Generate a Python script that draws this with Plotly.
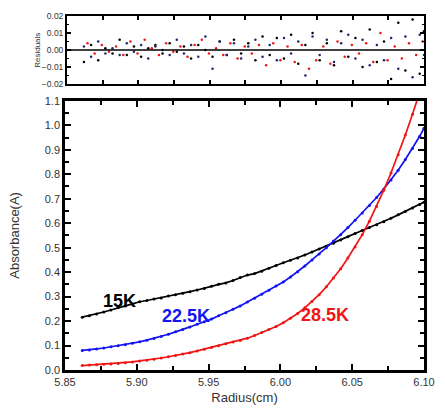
import plotly.graph_objects as go

radius = [5.862, 5.867, 5.872, 5.877, 5.882, 5.887, 5.892, 5.897, 5.902, 5.907,
          5.912, 5.917, 5.922, 5.927, 5.932, 5.937, 5.942, 5.947, 5.952, 5.957,
          5.962, 5.967, 5.972, 5.977, 5.982, 5.987, 5.992, 5.997, 6.002, 6.007,
          6.012, 6.017, 6.022, 6.027, 6.032, 6.037, 6.042, 6.047, 6.052, 6.057,
          6.062, 6.067, 6.072, 6.077, 6.082, 6.087, 6.092, 6.097, 6.100]

abs_15k = [0.216, 0.222, 0.229, 0.237, 0.245, 0.255, 0.262, 0.270, 0.279, 0.284,
           0.290, 0.294, 0.302, 0.308, 0.314, 0.320, 0.327, 0.333, 0.342, 0.350,
           0.356, 0.366, 0.378, 0.388, 0.394, 0.404, 0.416, 0.427, 0.438, 0.448,
           0.458, 0.470, 0.482, 0.494, 0.506, 0.518, 0.531, 0.545, 0.558, 0.570,
           0.582, 0.594, 0.606, 0.620, 0.634, 0.648, 0.662, 0.676, 0.686]

abs_225k = [0.080, 0.082, 0.086, 0.090, 0.095, 0.099, 0.103, 0.109, 0.115, 0.122,
            0.129, 0.137, 0.146, 0.156, 0.165, 0.176, 0.187, 0.197, 0.208, 0.222,
            0.234, 0.248, 0.262, 0.278, 0.293, 0.310, 0.326, 0.343, 0.360, 0.380,
            0.402, 0.425, 0.450, 0.474, 0.500, 0.527, 0.553, 0.582, 0.612, 0.642,
            0.672, 0.705, 0.740, 0.776, 0.816, 0.860, 0.905, 0.955, 0.988]

abs_285k = [0.018, 0.020, 0.021, 0.023, 0.025, 0.027, 0.030, 0.033, 0.037, 0.040,
            0.044, 0.049, 0.054, 0.059, 0.065, 0.071, 0.078, 0.085, 0.092, 0.099,
            0.107, 0.114, 0.121, 0.130, 0.141, 0.153, 0.165, 0.178, 0.193, 0.211,
            0.231, 0.254, 0.280, 0.308, 0.340, 0.376, 0.414, 0.458, 0.503, 0.553,
            0.608, 0.668, 0.735, 0.805, 0.880, 0.960, 1.045, 1.135, 1.190]

radius_b = [5.8645, 5.8695, 5.8745, 5.8795, 5.8845, 5.8895, 5.8945, 5.8995, 5.9045, 5.9095,
            5.9145, 5.9195, 5.9245, 5.9295, 5.9345, 5.9395, 5.9445, 5.9495, 5.9545, 5.9595,
            5.9645, 5.9695, 5.9745, 5.9795, 5.9845, 5.9895, 5.9945, 5.9995, 6.0045, 6.0095,
            6.0145, 6.0195, 6.0245, 6.0295, 6.0345, 6.0395, 6.0445, 6.0495, 6.0545, 6.0595,
            6.0645, 6.0695, 6.0745, 6.0795, 6.0845, 6.0895, 6.0945, 6.0990]

resid_black = [-0.007, 0.003, -0.006, 0.001, -0.002, 0.006, -0.003, 0.002, -0.004, 0.001,
               0.003, -0.002, 0.004, -0.001, 0.002, -0.005, 0.003, 0.000, -0.004, 0.005,
               -0.003, 0.006, -0.002, 0.004, -0.006, 0.008, -0.003, 0.007, -0.005, 0.009,
               -0.008, 0.003, 0.010, -0.006, 0.004, -0.009, 0.011, -0.004, 0.007, -0.010,
               0.012, -0.007, 0.005, -0.017, 0.016, -0.012, 0.018, -0.014, 0.011]

resid_blue = [0.002, -0.004, 0.005, -0.002, 0.001, -0.003, 0.004, -0.001, 0.003, -0.005,
              0.002, 0.000, -0.003, 0.006, -0.002, 0.003, -0.004, 0.008, -0.011, 0.005,
              -0.003, 0.004, -0.005, 0.002, 0.006, -0.004, 0.003, -0.006, 0.007, -0.002,
              0.005, -0.015, 0.008, -0.003, 0.006, -0.007, 0.004, 0.009, -0.005, 0.006,
              -0.009, 0.003, -0.006, 0.007, -0.011, 0.008, -0.016, 0.009, -0.003]

resid_red = [0.004, -0.002, 0.003, -0.001, 0.002, -0.003, 0.005, -0.002, 0.006, 0.001,
             -0.003, 0.004, -0.001, 0.002, -0.004, 0.003, 0.006, -0.002, 0.001, -0.003,
             0.004, -0.005, 0.002, -0.002, 0.003, -0.009, 0.004, -0.006, 0.002, -0.007,
             0.003, -0.011, -0.006, 0.002, -0.008, 0.005, -0.004, 0.003, -0.002, 0.004,
             -0.007, 0.010, -0.006, 0.002, -0.005, 0.004, -0.003, 0.005]

series_labels = ["15K", "22.5K", "28.5K"]
label_x = [5.888, 5.9345, 6.031]
label_y = [0.283, 0.222, 0.226]

BLACK = "#000000"
BLUE = "#1414f0"
RED = "#f01414"
DBLUE = "#1a2a70"
FONT = "Liberation Sans, Arial, sans-serif"

fig = go.Figure()

for y, c in [(abs_15k, BLACK), (abs_225k, BLUE), (abs_285k, RED)]:
    fig.add_trace(go.Scatter(x=radius, y=y, mode="lines+markers",
                             line=dict(color=c, width=1.7),
                             marker=dict(color=c, size=3),
                             xaxis="x", yaxis="y", showlegend=False,
                             cliponaxis=True))

for xx, yy, c in [(radius, resid_black, BLACK), (radius, resid_blue, DBLUE), (radius_b, resid_red, RED)]:
    fig.add_trace(go.Scatter(x=xx, y=yy, mode="markers",
                             marker=dict(color=c, size=2.5),
                             xaxis="x2", yaxis="y2", showlegend=False))

colors = [BLACK, BLUE, RED]
for t, xv, yv, c in zip(series_labels, label_x, label_y, colors):
    fig.add_annotation(x=xv, y=yv, xref="x", yref="y", text="<b>%s</b>" % t,
                       showarrow=False, font=dict(family=FONT, size=18, color=c))

# residual panel y title
fig.add_annotation(x=-0.0757, y=0.904, xref="paper", yref="paper", text="Residuals",
                   textangle=-90, showarrow=False, xanchor="center", yanchor="middle",
                   font=dict(family=FONT, size=8, color="#333333"))

# zero line in residual panel
fig.add_shape(type="line", xref="x2 domain", yref="y2", x0=0, x1=1, y0=0, y1=0,
              line=dict(color="black", width=1.5))

axis_common = dict(showline=True, linecolor="black", mirror="allticks",
                   ticks="inside", tickcolor="black", showgrid=False, zeroline=False,
                   tickfont=dict(family=FONT, size=11, color="#333333"))

fig.update_layout(
    width=445, height=416,
    margin=dict(l=65, r=10, t=11, b=46),
    paper_bgcolor="white", plot_bgcolor="white",
    font=dict(family=FONT, color="#333333"),
    xaxis=dict(axis_common, domain=[0, 1], range=[5.85, 6.10], dtick=0.05, tick0=5.85,
               tickformat=".2f", linewidth=2.5, tickwidth=2, ticklen=6,
               minor=dict(dtick=0.025, ticks="inside", ticklen=4, tickwidth=1.5, tickcolor="black"),
               title=dict(text="Radius(cm)", font=dict(family=FONT, size=13, color="#333333"), standoff=6),
               anchor="y"),
    yaxis=dict(axis_common, domain=[0, 0.7604], range=[0, 1.1], dtick=0.1, tick0=0,
               tickformat=".1f", linewidth=2.5, tickwidth=2, ticklen=6,
               minor=dict(dtick=0.05, ticks="inside", ticklen=4, tickwidth=1.5, tickcolor="black"),
               title=dict(text="Absorbance(A)", font=dict(family=FONT, size=13, color="#333333"), standoff=23),
               anchor="x"),
    xaxis2=dict(axis_common, domain=[0.005, 1.0], range=[5.85, 6.10], dtick=0.025, tick0=5.85,
                showticklabels=False, linewidth=1.5, tickwidth=1.5, ticklen=4, anchor="y2"),
    yaxis2=dict(axis_common, domain=[0.8078, 1.0], range=[-0.02, 0.02], dtick=0.01, tick0=0,
                tickformat=".2f", linewidth=1.5, tickwidth=1.5, ticklen=4,
                tickfont=dict(family=FONT, size=8.5, color="#333333"),
                minor=dict(dtick=0.005, ticks="inside", ticklen=2, tickwidth=1, tickcolor="black"),
                anchor="x2"),
)

fig.write_html("out.html", config={"displayModeBar": False},
               post_script="document.body.style.margin='0';document.body.style.overflow='hidden';")
